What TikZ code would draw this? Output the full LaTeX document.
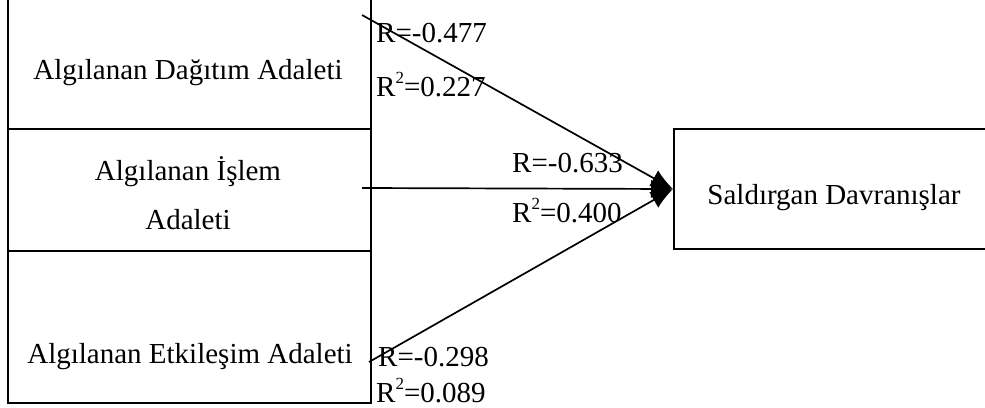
\documentclass[tikz,border=0pt]{standalone}
\usepackage{fontspec}
\setmainfont{Liberation Serif}
\usetikzlibrary{arrows.meta}
\newcommand{\sqsup}{\raisebox{0.42em}{\fontsize{17}{17}\selectfont 2}}
\begin{document}
\begin{tikzpicture}[x=1pt,y=-1pt,
  box/.style={draw=black,line width=2pt,inner sep=0pt},
  txt/.style={inner sep=0pt,font=\fontsize{29}{34}\selectfont},
  lbl/.style={inner sep=0pt,anchor=base west,font=\fontsize{29}{34}\selectfont},
  conn/.style={line width=1.7pt,-{Latex[length=22pt,width=18pt]}}]
\useasboundingbox (0,0) rectangle (985,407);
\clip (0,0) rectangle (985,407);
% boxes
\node[box,minimum width=363pt,minimum height=148pt,anchor=north west] (b1) at (7,-20) {};
\node[box,minimum width=363pt,minimum height=122pt,anchor=north west] (b2) at (7,128) {};
\node[box,minimum width=363pt,minimum height=152pt,anchor=north west] (b3) at (7,250) {};
\node[box,minimum width=330pt,minimum height=120pt,anchor=north west] (out) at (673,128) {};
% texts
\node[txt] (t1) at (188,73) {Algılanan Dağıtım Adaleti};
\node[txt] (t2a) at (188,172) {Algılanan İşlem};
\node[txt] (t2b) at (188,220) {Adaleti};
\node[txt] (t3) at (190,357) {Algılanan Etkileşim Adaleti};
\node[txt] (t4) at (834,198) {Saldırgan Davranışlar};
% connectors
\coordinate (s1) at (362,15);
\coordinate (s2) at (362,188);
\coordinate (s3) at (369,362);
\coordinate (tip) at (out.west);
\draw[conn] (s1) -- (tip);
\draw[conn] (s2) -- (tip);
\draw[conn] (s3) -- (tip);
% labels
\node[lbl] (l1) at (376,42) {R=-0.477};
\node[lbl] (l2) at (376,96) {R\sqsup=0.227};
\node[lbl] (l3) at (512,172) {R=-0.633};
\node[lbl] (l4) at (512,222) {R\sqsup=0.400};
\node[lbl] (l5) at (378,366) {R=-0.298};
\node[lbl] (l6) at (376,402) {R\sqsup=0.089};
\end{tikzpicture}
\end{document}
